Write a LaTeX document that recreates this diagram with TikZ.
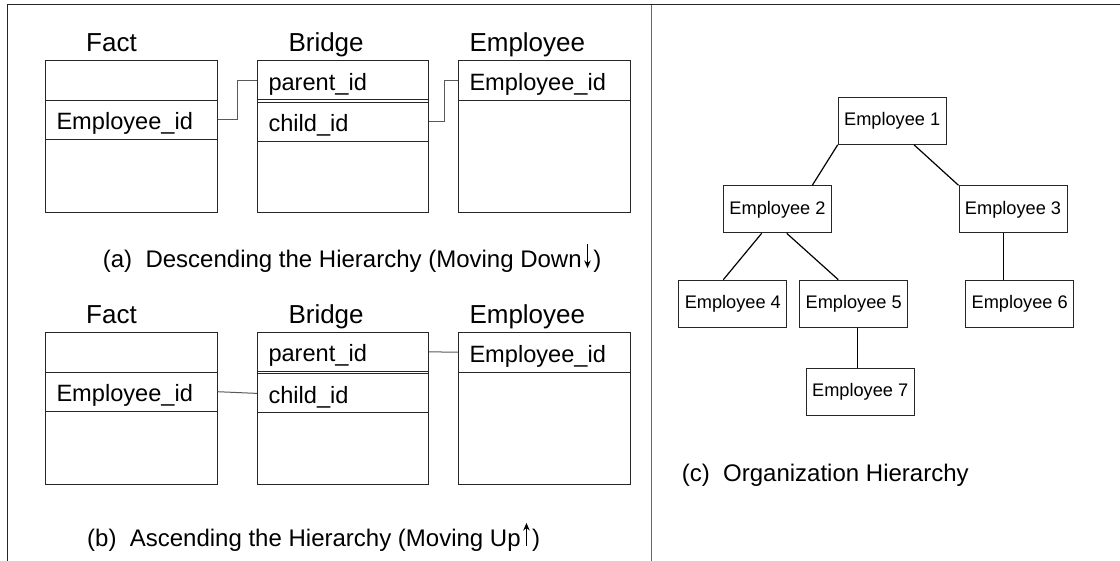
\documentclass[tikz,border=0pt]{standalone}
\usepackage{fontspec}
\setmainfont{Liberation Sans}
\usetikzlibrary{calc,arrows.meta}
\newcommand{\celltxt}{\fontsize{23.6}{28}\selectfont}
\newcommand{\hdrtxt}{\fontsize{26}{30}\selectfont}
\newcommand{\treetxt}{\fontsize{18.2}{22}\selectfont}
\newcommand{\captxt}{\fontsize{24}{28}\selectfont}
\newcommand{\downarr}{\hspace{2.5pt}\tikz[baseline=0pt]\draw[line width=1.2pt,-{Stealth[length=7.5pt,width=6.5pt]}] (0pt,24pt) -- (0pt,0pt);\hspace{2.5pt}}
\newcommand{\uparr}{\hspace{2.5pt}\tikz[baseline=0pt]\draw[line width=1.2pt,-{Stealth[length=7.5pt,width=6.5pt]}] (0pt,0pt) -- (0pt,23pt);\hspace{2.5pt}}
\tikzset{
  tbl/.style={draw=black!85, line width=1pt, inner sep=0pt, anchor=north west,
    minimum width=171.5pt, minimum height=152pt},
  cellrow/.style={draw=black!85, line width=1pt, anchor=north west,
    minimum width=171.5pt, minimum height=#1, inner xsep=11pt, inner ysep=0pt,
    text width=149.5pt, align=left, text height=20pt, text depth=0pt, font=\celltxt},
  hdr/.style={anchor=base west, inner sep=0pt, font=\hdrtxt},
  captionlbl/.style={anchor=base west, inner sep=0pt, font=\captxt},
  conn/.style={draw=black!65, line width=1pt},
  tnode/.style={draw=black!85, line width=1pt, minimum width=108pt, minimum height=47pt,
    inner sep=0pt, font=\treetxt},
  tedge/.style={draw=black, line width=1.2pt},
  frame/.style={draw=black!85, line width=1pt},
  divider/.style={draw=black!60, line width=1pt}
}
\begin{document}
\begin{tikzpicture}[x=1pt,y=-1pt]
\useasboundingbox (0,0) rectangle (1120,561);
% frame
\draw[frame] (7.5,561) -- (7.5,5) -- (1120,5);
\draw[divider] (651,5) -- (651,561);

% ---------- (a) ----------
\node[hdr] (fah) at (86,51.7) {Fact};
\node[hdr] (bah) at (288.3,51.7) {Bridge};
\node[hdr] (eah) at (469.3,51.7) {Employee};
\node[tbl] (fa) at (45,60) {};
\node[cellrow=39pt] (faid) at (45,100) {Employee\_id};
\node[tbl, minimum width=171pt] (ba) at (257,60) {};
\node[cellrow=39.3pt, minimum width=171pt, text width=149pt] (bap) at (257,60) {parent\_id};
\node[cellrow=39pt, minimum width=171pt, text width=149pt] (bac) at (257,101.7) {child\_id};
\node[tbl] (ea) at (458,60) {};
\node[cellrow=40pt] (eaid) at (458,60) {Employee\_id};
\draw[conn] (faid.east) -- ++(19.7,0) |- (bap.west);
\draw[conn] (bac.east) -- ++(15,0) |- (eaid.west);
\node[captionlbl] (capa) at (102.7,268) {(a)~~Descending the Hierarchy (Moving Down\downarr)};

% ---------- (b) ----------
\node[hdr] (fbh) at (86,323.4) {Fact};
\node[hdr] (bbh) at (288.3,323.4) {Bridge};
\node[hdr] (ebh) at (469.3,323.4) {Employee};
\node[tbl] (fb) at (45,331.7) {};
\node[cellrow=39pt] (fbid) at (45,371.7) {Employee\_id};
\node[tbl, minimum width=171pt] (bb) at (257,331.7) {};
\node[cellrow=39.3pt, minimum width=171pt, text width=149pt] (bbp) at (257,331.7) {parent\_id};
\node[cellrow=39pt, minimum width=171pt, text width=149pt] (bbc) at (257,373.4) {child\_id};
\node[tbl] (eb) at (458,331.7) {};
\node[cellrow=40pt] (ebid) at (458,331.7) {Employee\_id};
\draw[conn] (fbid.east) -- (bbc.west);
\draw[conn] (bbp.east) -- (ebid.west);
\node[captionlbl] (capb) at (87,546) {(b)~~Ascending the Hierarchy (Moving Up\uparr)};

% ---------- (c) ----------
\node[tnode] (e1) at (892.2,120.8) {Employee 1};
\node[tnode] (e2) at (777.5,209.3) {Employee 2};
\node[tnode] (e3) at (1013,209.3) {Employee 3};
\node[tnode] (e4) at (732.8,303.7) {Employee 4};
\node[tnode] (e5) at (853.7,303.7) {Employee 5};
\node[tnode] (e6) at (1019.7,303.7) {Employee 6};
\node[tnode] (e7) at (860.2,391.7) {Employee 7};
\draw[tedge] (e1.south west) -- ([xshift=34.8pt]e2.north);
\draw[tedge] ([xshift=21.8pt]e1.south) -- (e3.north west);
\draw[tedge] ([xshift=-15.8pt]e2.south) -- ([xshift=-9.5pt]e4.north);
\draw[tedge] ([xshift=9.2pt]e2.south) -- ([xshift=-15.4pt]e5.north);
\draw[tedge] ([xshift=-9.7pt]e3.south) -- ([xshift=-9.7pt]e3.south |- e6.north);
\draw[tedge] ([xshift=3.6pt]e5.south) -- ([xshift=3.6pt]e5.south |- e7.north);
\node[captionlbl] (capc) at (681.7,481) {(c)~~Organization Hierarchy};
\end{tikzpicture}
\end{document}
